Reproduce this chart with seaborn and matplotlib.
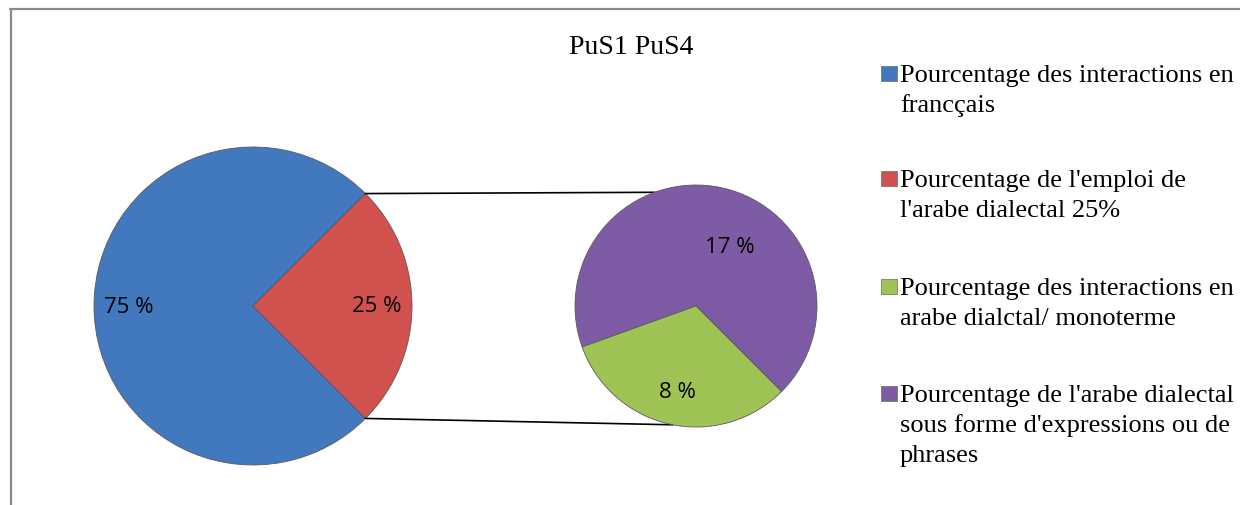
import matplotlib
matplotlib.use("Agg")
import matplotlib.pyplot as plt
from matplotlib.patches import ConnectionPatch, Rectangle
from matplotlib.lines import Line2D
import numpy as np
import seaborn as sns

# données
titre = "PuS1 PuS4"
valeurs_principal = [75, 25]
valeurs_secondaire = [17, 8]
legende = [
    "Pourcentage des interactions en\nfrancçais",
    "Pourcentage de l'emploi de\nl'arabe dialectal 25%",
    "Pourcentage des interactions en\narabe dialctal/ monoterme",
    "Pourcentage de l'arabe dialectal\nsous forme d'expressions ou de\nphrases",
]
couleurs = ["#4178BE", "#D0514E", "#A0C355", "#7E5CA5"]

sns.set_theme(style="white")
plt.rcParams["font.family"] = ["Open Sans", "DejaVu Sans"]

W, H = 1240, 506
fig = plt.figure(figsize=(W / 100, H / 100), dpi=100)
fig.patch.set_facecolor("white")


def fx(x):
    return x / W


def fy(y):
    return 1 - y / H


def pie_axes(cx, cy, r):
    ax = fig.add_axes([fx(cx - r), fy(cy + r), 2 * r / W, 2 * r / H])
    return ax


def fix_axes(ax):
    ax.set_xlim(-1, 1)
    ax.set_ylim(-1, 1)
    ax.axis("off")


# camembert principal
ax1 = pie_axes(253, 307, 159)
pal = sns.color_palette(couleurs)
ax1.pie(valeurs_principal, colors=pal[:2], startangle=45, radius=1,
        autopct=lambda p: f"{p:.0f} %", pctdistance=0.78,
        wedgeprops=dict(edgecolor="#5a5a5a", linewidth=0.6),
        textprops=dict(fontsize=16, color="black"))
fix_axes(ax1)

# camembert secondaire
ax2 = pie_axes(696, 307, 121)
tot = sum(valeurs_secondaire)
_, _, txts = ax2.pie(valeurs_secondaire, colors=[pal[3], pal[2]], startangle=-45, radius=1,
                     autopct=lambda p: f"{p * tot / 100:.0f} %", pctdistance=0.72,
                     wedgeprops=dict(edgecolor="#5a5a5a", linewidth=0.6),
                     textprops=dict(fontsize=16, color="black"))
txts[0].set_position((0.28, 0.49))
fix_axes(ax2)
ax2.set_zorder(3)

# lignes de liaison
for a1, a2 in [(45, 110), (-45, 259)]:
    p1 = (np.cos(np.radians(a1)), np.sin(np.radians(a1)))
    p2 = (np.cos(np.radians(a2)), np.sin(np.radians(a2)))
    con = ConnectionPatch(xyA=p1, coordsA=ax1.transData, xyB=p2, coordsB=ax2.transData,
                          color="black", linewidth=1.2, zorder=1)
    fig.add_artist(con)

# titre
fig.text(fx(631), fy(48), titre, ha="center", va="center", fontsize=20,
         family="Liberation Serif", color="black")

# légende
bases = [82, 187, 295, 402]
for lab, col, yb in zip(legende, couleurs, bases):
    fig.add_artist(Rectangle((fx(881), fy(yb)), 16 / W, 15 / H, transform=fig.transFigure,
                             facecolor=col, edgecolor="#6a6a6a", linewidth=0.5))
    for i, ligne in enumerate(lab.split("\n")):
        fig.text(fx(900), fy(yb + 30 * i), ligne, ha="left", va="baseline",
                 fontsize=19, family="Liberation Serif", color="black")

# cadre
fig.add_artist(Line2D([fx(10), fx(W)], [fy(10), fy(10)], transform=fig.transFigure,
                      color="#8a8a8a", linewidth=1.6))
fig.add_artist(Line2D([fx(10.5), fx(10.5)], [fy(10), fy(H)], transform=fig.transFigure,
                      color="#8a8a8a", linewidth=1.6))

fig.savefig("out.png", dpi=100)
